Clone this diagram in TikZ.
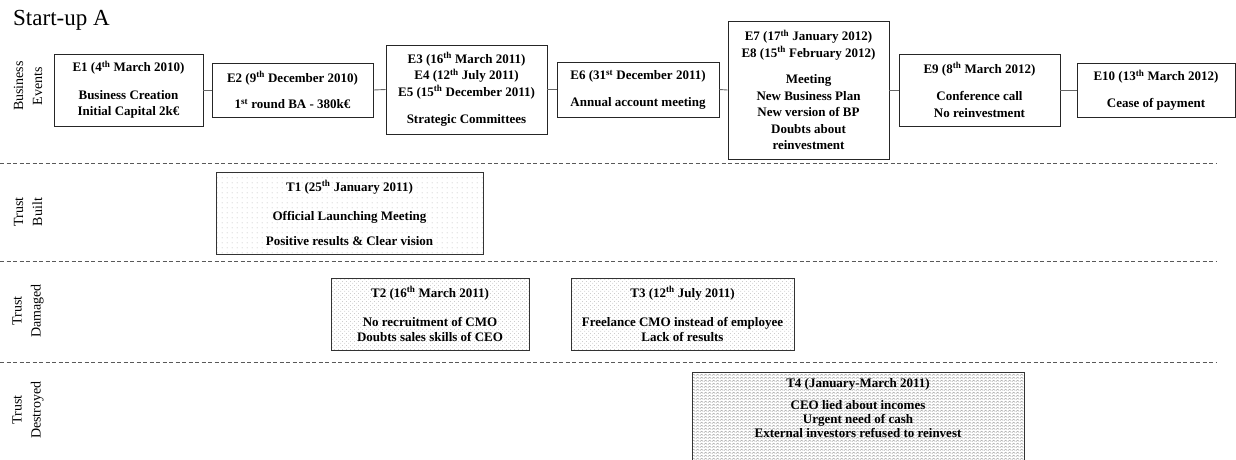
\documentclass[tikz,border=0pt]{standalone}
\usepackage{fontspec}
\setmainfont{Liberation Serif}
\usetikzlibrary{patterns,patterns.meta}
\tikzdeclarepattern{
  name=zigzag,
  type=uncolored,
  bounding box={(0pt,0pt) and (4pt,3pt)},
  tile size={(4pt,3pt)},
  code={\draw[line width=0.4pt] (0pt,0.5pt) -- (2pt,2.5pt) -- (4pt,0.5pt);}
}
\tikzdeclarepattern{
  name=sparsedots,
  type=uncolored,
  bounding box={(0pt,0pt) and (5pt,5pt)},
  tile size={(5pt,5pt)},
  code={\fill (2.5pt,2.5pt) circle (0.5pt);}
}
\tikzdeclarepattern{
  name=xdots,
  type=uncolored,
  bounding box={(0pt,0pt) and (4pt,4pt)},
  tile size={(4pt,4pt)},
  code={\fill (1pt,1pt) circle (0.5pt); \fill (3pt,3pt) circle (0.5pt);}
}
\newcommand{\sth}[1]{\textsuperscript{#1}}
\begin{document}
\begin{tikzpicture}[x=1pt,y=-1pt,
  ebox/.style={draw=black!85, line width=0.9pt, fill=white, align=center,
    font=\fontsize{13}{16.5}\selectfont\bfseries, inner sep=0pt},
  tbox/.style={draw=black!80, line width=0.9pt, align=center,
    font=\fontsize{13}{15}\selectfont\bfseries, inner sep=0pt},
  lane/.style={rotate=90, align=center, font=\fontsize{14}{19}\selectfont, inner sep=0pt},
  sep/.style={draw=black!65, line width=0.8pt, dash pattern=on 4pt off 2.5pt},
  link/.style={draw=black!60, line width=0.9pt}]
\useasboundingbox (0,0) rectangle (1236,459);

\node[anchor=base west, font=\fontsize{23}{23}\selectfont, inner sep=0pt] (title) at (13,25) {Start-up A};

% lane labels
\node[lane] (L1) at (28,86) {Business\\Events};
\node[lane] (L2) at (28,212) {Trust\\Built};
\node[lane] (L3) at (28,311) {Trust\\Damaged};
\node[lane] (L4) at (28,410) {Trust\\Destroyed};

% separators
\draw[sep] (0,163) -- (1217,163);
\draw[sep] (0,261) -- (1217,261);
\draw[sep] (0,362) -- (1217,362);

% business events
\node[ebox, minimum width=149pt, minimum height=72pt] (E1) at (128.5,90)
  {E1 (4\sth{th} March 2010)\\[11pt] Business Creation\\ Initial Capital 2k€};
\node[ebox, minimum width=161pt, minimum height=54pt] (E2) at (292.5,90)
  {E2 (9\sth{th} December 2010)\\[10pt] 1\sth{st} round BA - 380k€};
\node[ebox, minimum width=161pt, minimum height=89pt] (E3) at (466.5,89.5)
  {E3 (16\sth{th} March 2011)\\ E4 (12\sth{th} July 2011)\\ E5 (15\sth{th} December 2011)\\[11pt] Strategic Committees};
\node[ebox, minimum width=162pt, minimum height=55pt] (E6) at (638,89.5)
  {E6 (31\sth{st} December 2011)\\[10pt] Annual account meeting};
\node[ebox, minimum width=161pt, minimum height=138pt] (E7) at (808.5,90)
  {E7 (17\sth{th} January 2012)\\ E8 (15\sth{th} February 2012)\\[10pt] Meeting\\ New Business Plan\\ New version of BP\\ Doubts about\\ reinvestment};
\node[ebox, minimum width=161pt, minimum height=72pt] (E9) at (979.5,90)
  {E9 (8\sth{th} March 2012)\\[11pt] Conference call\\ No reinvestment};
\node[ebox, minimum width=158pt, minimum height=54pt] (E10) at (1156,90)
  {E10 (13\sth{th} March 2012)\\[10pt] Cease of payment};

\draw[link] (E1.east) -- (E2.west);
\draw[link] (E2.east) -- (E3.west);
\draw[link] (E3.east) -- (E6.west);
\draw[link] (E6.east) -- (E7.west);
\draw[link] (E7.east) -- (E9.west);
\draw[link] (E9.east) -- (E10.west);

% trust events
\node[tbox, pattern=sparsedots, pattern color=black!40, minimum width=267pt, minimum height=82pt] (T1) at (349.5,213)
  {T1 (25\sth{th} January 2011)\\[14pt] Official Launching Meeting\\[10pt] Positive results \& Clear vision};
\node[tbox, pattern=xdots, pattern color=black!35, minimum width=198pt, minimum height=72pt] (T2) at (430,314)
  {T2 (16\sth{th} March 2011)\\[14pt] No recruitment of CMO\\ Doubts sales skills of CEO};
\node[tbox, pattern=xdots, pattern color=black!35, minimum width=223pt, minimum height=72pt] (T3) at (682.5,314)
  {T3 (12\sth{th} July 2011)\\[14pt] Freelance CMO instead of employee\\ Lack of results};
\node[tbox, pattern=zigzag, pattern color=black!45, minimum width=332pt, minimum height=100pt, anchor=north] (T4) at (858,372) {};
\node[tbox, draw=none, anchor=north, font=\fontsize{13}{14}\selectfont\bfseries] (T4t) at (858,378)
  {T4 (January-March 2011)\\[8pt] CEO lied about incomes\\ Urgent need of cash\\ External investors refused to reinvest};
\end{tikzpicture}
\end{document}
